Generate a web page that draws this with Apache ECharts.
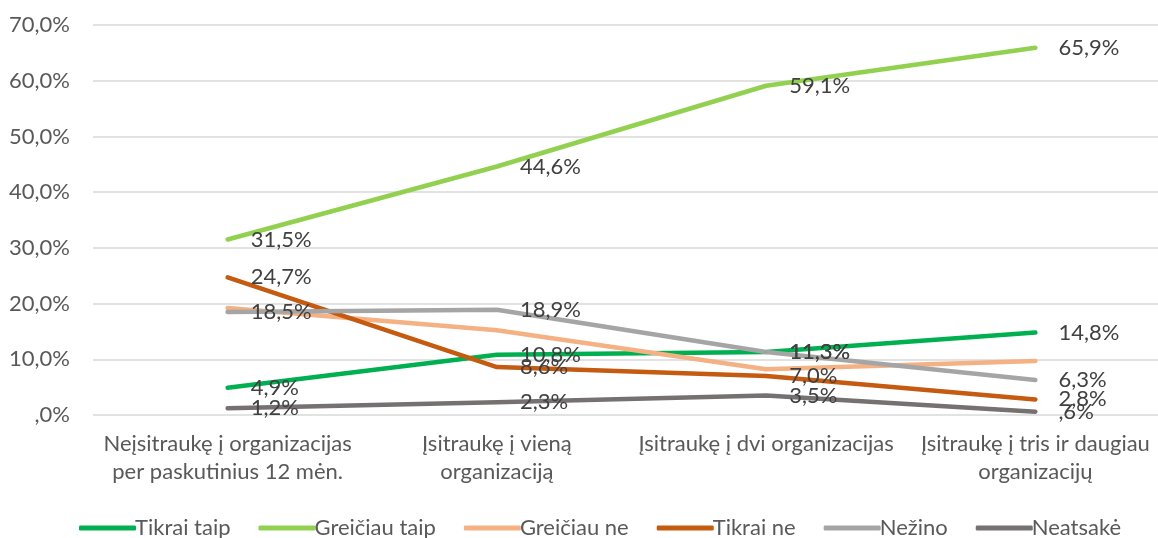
<!DOCTYPE html>
<html><head><meta charset="utf-8">
<script src="https://cdn.jsdelivr.net/npm/echarts@6/dist/echarts.min.js"></script>
<style>html,body{margin:0;padding:0;background:#fff}#c{width:1158px;height:538px}</style>
</head><body><div id="c"></div>
<script>
const categories = ["Neįsitraukę į organizacijas\nper paskutinius 12 mėn.", "Įsitraukę į vieną\norganizaciją", "Įsitraukę į dvi organizacijas", "Įsitraukę į tris ir daugiau\norganizacijų"];
const seriesNames = ["Tikrai taip", "Greičiau taip", "Greičiau ne", "Tikrai ne", "Nežino", "Neatsakė"];
const tikraiTaip = [4.9, 10.8, 11.3, 14.8];
const greiciauTaip = [31.5, 44.6, 59.1, 65.9];
const greiciauNe = [19.2, 15.2, 8.2, 9.7];
const tikraiNe = [24.7, 8.6, 7.0, 2.8];
const nezino = [18.5, 18.9, 11.3, 6.3];
const neatsake = [1.2, 2.3, 3.5, 0.6];
const showLabels = [true, true, false, true, true, true];
const colors = ["#00B050", "#92D050", "#F4B183", "#C55A11", "#A5A5A5", "#767171"];
const FONT = "Lato, 'Open Sans', sans-serif";
function fmt(v){ let s = v.toFixed(1).replace('.', ','); if (s.startsWith('0')) s = s.slice(1); return s + '%'; }
const allData = [tikraiTaip, greiciauTaip, greiciauNe, tikraiNe, nezino, neatsake];
const chart = echarts.init(document.getElementById('c'), null, {renderer: 'canvas'});
chart.setOption({
  animation: false,
  backgroundColor: '#fff',
  grid: {left: 93, top: 25, width: 1077, height: 390, containLabel: false, outerBoundsMode: 'none'},
  legend: {
    top: 512, left: 74,
    data: seriesNames.map((n, i) => ({name: n, icon: 'roundRect', itemStyle: {color: colors[i], opacity: 1}})),
    itemWidth: 57, itemHeight: 5, itemGap: 28,
    textStyle: {fontFamily: FONT, fontSize: 22, color: '#595959', padding: [0, 0, 0, -6]}
  },
  xAxis: {
    type: 'category', data: categories, boundaryGap: true,
    axisLine: {show: false}, axisTick: {show: false},
    axisLabel: {fontFamily: FONT, fontSize: 22, color: '#595959', margin: 15, lineHeight: 28, interval: 0}
  },
  yAxis: {
    type: 'value', min: 0, max: 70, interval: 10,
    axisLine: {show: false}, axisTick: {show: false},
    splitLine: {lineStyle: {color: '#D9D9D9', width: 1.5}},
    axisLabel: {fontFamily: FONT, fontSize: 22, color: '#595959', margin: 23, formatter: v => fmt(v)}
  },
  series: seriesNames.map((n, i) => ({
    name: n, type: 'line', data: allData[i], showSymbol: true, symbol: 'circle', symbolSize: 2,
    lineStyle: {color: colors[i], width: 4.5, cap: 'round', join: 'round'},
    itemStyle: {color: colors[i]},
    emphasis: {disabled: true},
    label: {show: showLabels[i], position: 'right', distance: 22, offset: [0, 4],
      fontFamily: FONT, fontSize: 22, color: '#404040', formatter: p => fmt(p.value)},
    labelLayout: {hideOverlap: false}
  }))
});
</script></body></html>
